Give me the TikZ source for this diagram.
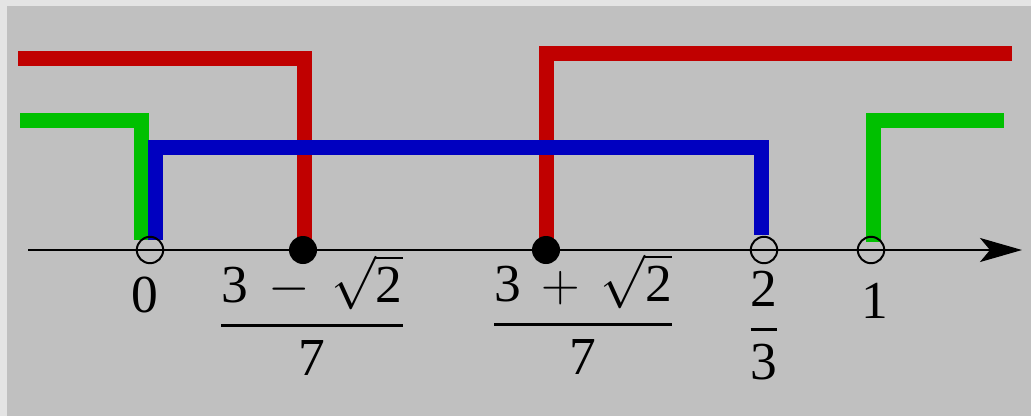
\RequirePackage{fix-cm}
\documentclass[tikz,border=0pt]{standalone}
\usepackage{amsmath}
\usepackage{fontspec}
\setmainfont{Liberation Serif}
\usepackage{tikz}
\usetikzlibrary{arrows.meta,calc,backgrounds}
\definecolor{frame}{HTML}{E4E4E4}
\definecolor{board}{HTML}{C0C0C0}
\definecolor{penred}{HTML}{C00000}
\definecolor{pengreen}{HTML}{00C000}
\definecolor{penblue}{HTML}{0000C0}
\newcommand{\bigfrac}[2]{\genfrac{}{}{2pt}{0}{#1}{#2}}
\tikzset{
  axisline/.style={-{Stealth[length=1.05cm,width=0.6cm,inset=0.25cm]},
                   line width=1.6pt,draw=black},
  redband/.style={draw=penred,line width=0.375cm},
  greenband/.style={draw=pengreen,line width=0.375cm},
  blueband/.style={draw=penblue,line width=0.375cm},
  opendot/.style={circle,draw=black,line width=1.4pt,
                  minimum size=0.66cm,inner sep=0pt},
  fulldot/.style={circle,fill=black,minimum size=0.7cm,inner sep=0pt},
  ticklabel/.style={font=\fontsize{38}{46}\selectfont,anchor=base,
                    inner sep=0pt}
}

\begin{document}
\begin{tikzpicture}[x=0.025cm,y=-0.025cm]
    \path[use as bounding box] (0,0) rectangle (1031,416);
    % points on the line
    \node[opendot] (zero) at (150,250) {};
    \node[fulldot] (lowroot) at (303,250) {};
    \node[fulldot] (highroot) at (546,250) {};
    \node[opendot] (twothirds) at (764,250) {};
    \node[opendot] (one) at (871,250) {};
    % values under the points
    \node[ticklabel] (zerolab) at (145,312) {0};
    \node[ticklabel] (lowlab) at (312,339)
      {$\bigfrac{\text{3}\,-\,\sqrt{\text{2}}}{\text{7}}$};
    \node[ticklabel] (highlab) at (583,338)
      {$\bigfrac{\text{3}\,+\,\sqrt{\text{2}}}{\text{7}}$};
    \node[ticklabel] (twolab) at (764,343) {$\bigfrac{\text{2}}{\text{3}}$};
    \node[ticklabel] (onelab) at (875,318) {1};
    \begin{scope}[on background layer]
      \fill[frame] (0,0) rectangle (1031,416);
      \fill[board] (7,6) rectangle (1031,416);
      \coordinate (redstart) at (18,58);
      \coordinate (redstop) at (1012,53);
      \coordinate (greenstart) at (20,120);
      \coordinate (greenstop) at (1004,120);
      \coordinate (bluetop) at (761,147);
      \coordinate (axstart) at (28,250);
      \coordinate (axend) at (1022,250);
      % solution sets
      \draw[redband] (redstart) -| ($(lowroot)+(1,-10)$);
      \draw[redband] ($(highroot)+(0,-10)$) |- (redstop);
      \draw[greenband] (greenstart) -| ($(zero)+(-9,-10)$);
      \draw[blueband] ($(zero)+(5,-10)$) |- (bluetop)
                      -- ($(twothirds)+(-3,-15)$);
      \draw[greenband] ($(one)+(2,-8)$) |- (greenstop);
      \draw[axisline] (axstart) -- (axend);
    \end{scope}
\end{tikzpicture}
\end{document}
